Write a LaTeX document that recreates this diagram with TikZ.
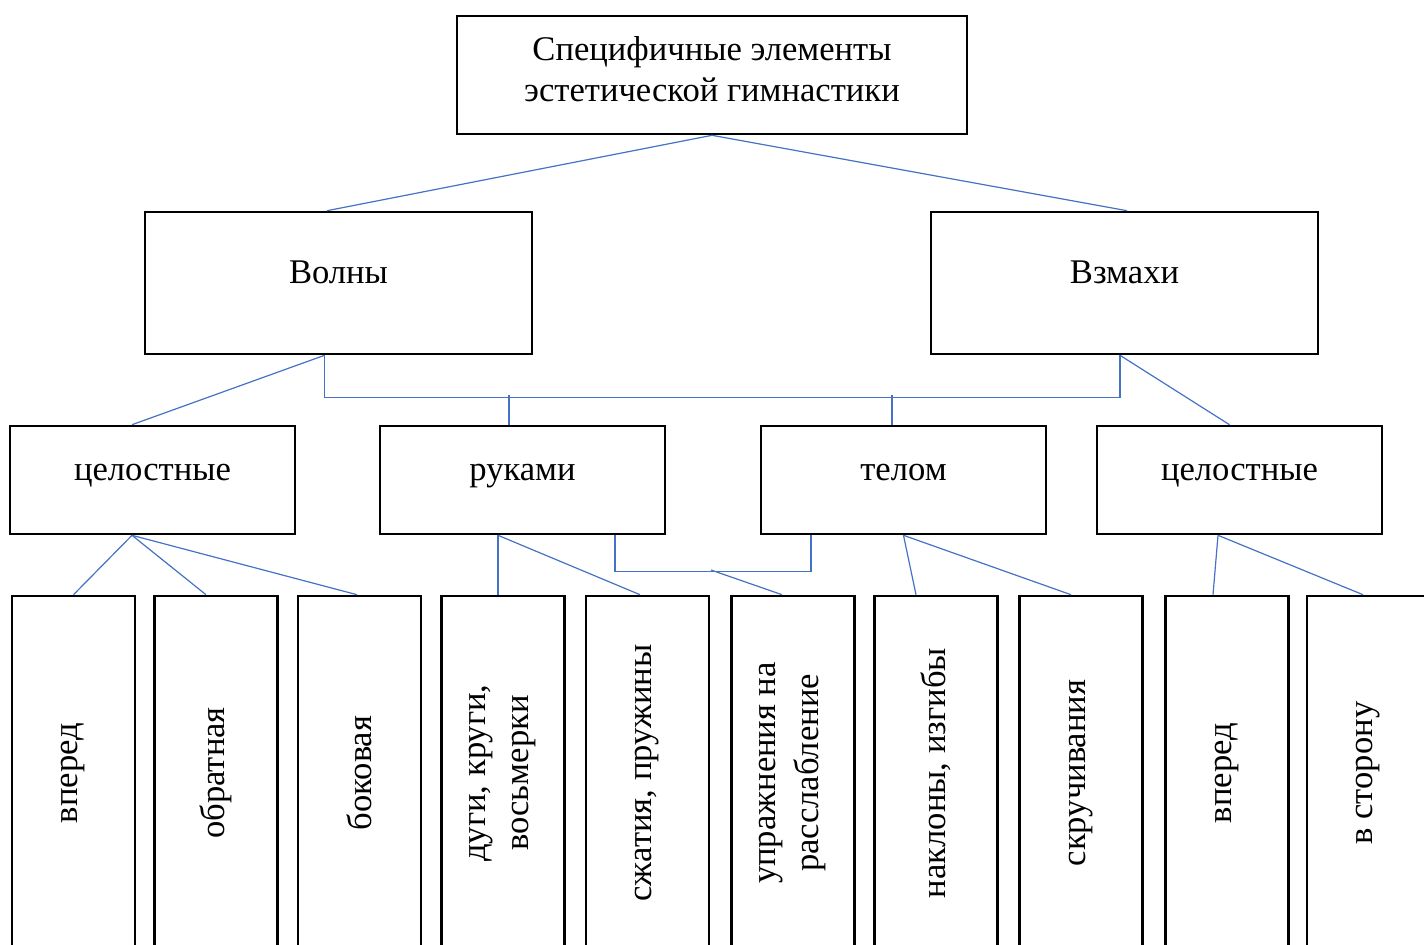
\documentclass[tikz,border=0pt]{standalone}
\usepackage{fontspec}
\setmainfont{Liberation Serif}
\usetikzlibrary{positioning}
\definecolor{linkblue}{HTML}{4472C4}
\tikzset{box/.style={draw, rectangle, line width=1.3pt, inner sep=0pt,
    font=\fontsize{17.3}{21.5}\selectfont, align=center}}
\tikzset{raised/.style={text height=0.7em, text depth=0.7em}}
\tikzset{leaf/.style={box, rotate=90, minimum width=177pt, minimum height=61.5pt}}
\tikzset{link/.style={draw=linkblue, line width=0.6pt}}

\begin{document}
\begin{tikzpicture}[x=0.5pt,
      y=0.5pt,
      semithick]

    \useasboundingbox (0,0) rectangle (1424,-944);

    % top level
    \node[box, text depth=6.5pt, minimum width=255pt, minimum height=59pt]
      (Top) at (712,-75) {Специфичные элементы\\[-1pt]эстетической гимнастики};

    % second level
    \node[box, raised, minimum width=193.5pt, minimum height=71pt]
      (Waves) at (338.5,-283) {Волны};
    \node[box, raised, minimum width=193.5pt, minimum height=71pt]
      (Swings) at (1124.5,-283) {Взмахи};

    % third level
    \node[box, raised, minimum width=142.5pt, minimum height=54pt]
      (WholeL) at (152.5,-480) {целостные};
    \node[box, raised, minimum width=142.5pt, minimum height=54pt]
      (Arms) at (522.5,-480) {руками};
    \node[box, raised, minimum width=142.5pt, minimum height=54pt]
      (Body) at (903.5,-480) {телом};
    \node[box, raised, minimum width=142.5pt, minimum height=54pt]
      (WholeR) at (1239.5,-480) {целостные};

    % leaves
    \node[leaf] (Forward) at (73.5,-773) {вперед};
    \node[leaf] (Backward) at (216,-773) {обратная};
    \node[leaf] (Side) at (359.5,-773) {боковая};
    \node[leaf] (Arcs) at (503,-773) {дуги, круги,\\восьмерки};
    \node[leaf] (Springs) at (647.5,-773) {сжатия, пружины};
    \node[leaf] (Relax) at (793,-773) {упражнения на\\расслабление};
    \node[leaf] (Bends) at (936,-773) {наклоны, изгибы};
    \node[leaf] (Twists) at (1081,-773) {скручивания};
    \node[leaf] (ForwardR) at (1227,-773) {вперед};
    \node[leaf] (Sideways) at (1368.5,-773) {в сторону};

    \path[link]
      (Top.south) edge ([xshift=-5.75pt]Waves.north)
      (Top.south) edge ([xshift=1.25pt]Swings.north)
      ([xshift=-7pt]Waves.south) edge ([xshift=-10.25pt]WholeL.north)
      ([xshift=-2.25pt]Swings.south) edge ([xshift=-5pt]WholeR.north);

    % shared bar between Waves and Swings
    \draw[link] ([xshift=-7pt]Waves.south) -- ++(0,-42)
      -| ([xshift=-2.25pt]Swings.south);
    \draw[link] ([xshift=-6.75pt]Arms.north) -- ++(0,30);
    \draw[link] ([xshift=-5.75pt]Body.north) -- ++(0,30);

    % shared bar between Arms and Body
    \draw[link] ([xshift=46.25pt]Arms.south) -- ++(0,-36)
      -| ([xshift=-46.25pt]Body.south);
    \coordinate (RelaxFork) at (711,-570);

    \path[link]
      ([xshift=-10.25pt]WholeL.south) edge (Forward.east)
      ([xshift=-10.25pt]WholeL.south) edge ([xshift=-5pt]Backward.east)
      ([xshift=-10.25pt]WholeL.south) edge ([xshift=-1.25pt]Side.east)
      ([xshift=-12.25pt]Arms.south) edge ([xshift=-2.5pt]Arcs.east)
      ([xshift=-12.25pt]Arms.south) edge ([xshift=-3.75pt]Springs.east)
      (RelaxFork) edge ([xshift=-5.5pt]Relax.east)
      (Body.south) edge ([xshift=-10pt]Bends.east)
      (Body.south) edge ([xshift=-5pt]Twists.east)
      ([xshift=-10.75pt]WholeR.south) edge ([xshift=-7pt]ForwardR.east)
      ([xshift=-10.75pt]WholeR.south) edge ([xshift=-2.75pt]Sideways.east);

  \end{tikzpicture}
\end{document}
